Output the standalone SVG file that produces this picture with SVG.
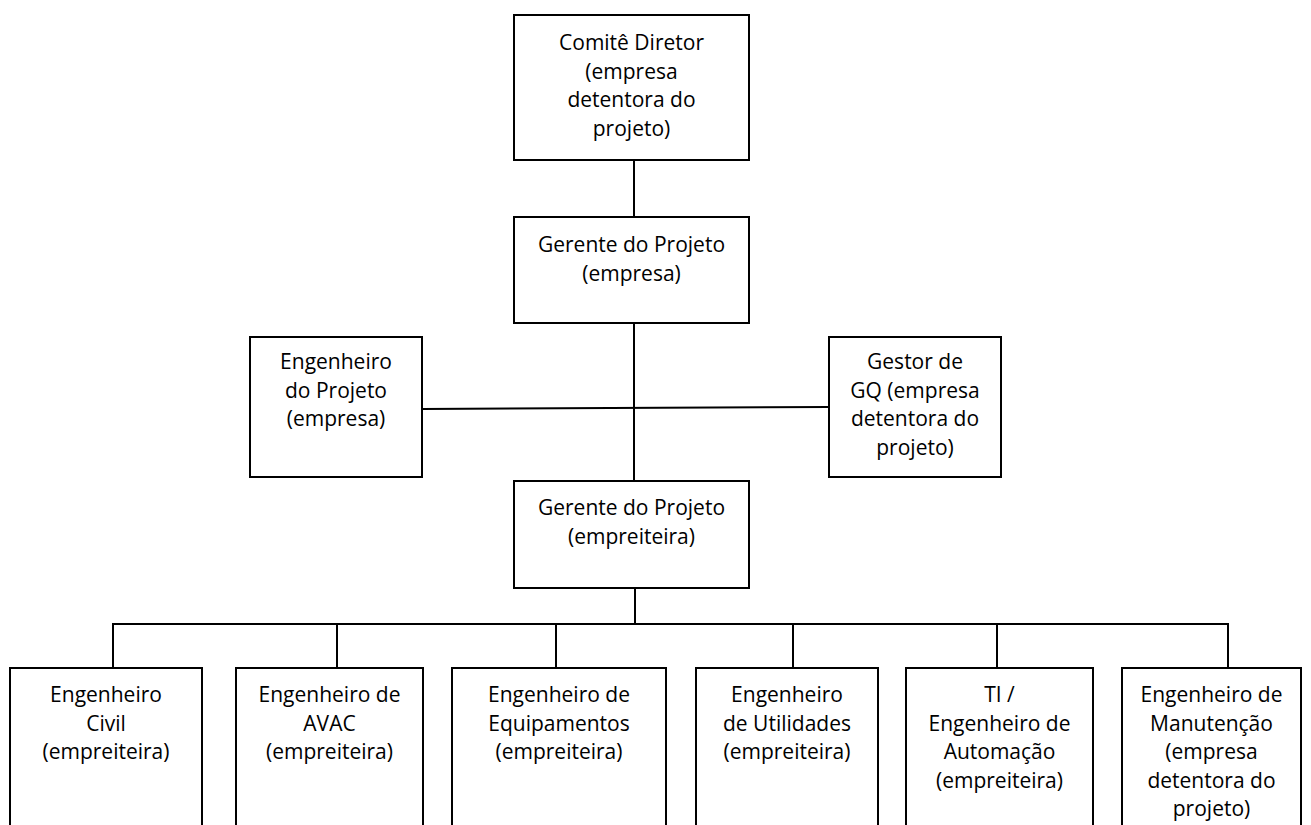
<svg xmlns="http://www.w3.org/2000/svg" width="1311" height="825" viewBox="0 0 1311 825">
<style>
.box{fill:#fff;stroke:#000;stroke-width:2}
.ln{fill:none;stroke:#000;stroke-width:2}
text{font-family:"Open Sans","Liberation Sans",sans-serif;font-size:21px;fill:#000;text-anchor:middle}
</style>
<rect width="1311" height="825" fill="#fff"/>
<g id="connectors">
<line class="ln" x1="634" y1="160" x2="634" y2="217"/>
<line class="ln" x1="634" y1="323" x2="634" y2="481"/>
<line class="ln" x1="422" y1="409" x2="829" y2="407"/>
<line class="ln" x1="635" y1="588" x2="635" y2="624"/>
<polyline class="ln" points="113,668 113,624 1228,624 1228,668"/>
<line class="ln" x1="337" y1="624" x2="337" y2="668"/>
<line class="ln" x1="556" y1="624" x2="556" y2="668"/>
<line class="ln" x1="793" y1="624" x2="793" y2="668"/>
<line class="ln" x1="997" y1="624" x2="997" y2="668"/>
</g>
<g id="comite">
<rect class="box" x="514" y="15" width="235" height="145"/>
<text x="631.5" y="50">Comitê Diretor</text>
<text x="631.5" y="78.5">(empresa</text>
<text x="631.5" y="107">detentora do</text>
<text x="631.5" y="135.5">projeto)</text>
</g>
<g id="gerente-empresa">
<rect class="box" x="514" y="217" width="235" height="106"/>
<text x="631.5" y="252">Gerente do Projeto</text>
<text x="631.5" y="280.5">(empresa)</text>
</g>
<g id="engenheiro-projeto">
<rect class="box" x="250" y="337" width="172" height="140"/>
<text x="336" y="369">Engenheiro</text>
<text x="336" y="397.5">do Projeto</text>
<text x="336" y="426">(empresa)</text>
</g>
<g id="gestor-gq">
<rect class="box" x="829" y="337" width="172" height="140"/>
<text x="915" y="369">Gestor de</text>
<text x="915" y="397.5">GQ (empresa</text>
<text x="915" y="426">detentora do</text>
<text x="915" y="454.5">projeto)</text>
</g>
<g id="gerente-empreiteira">
<rect class="box" x="514" y="481" width="235" height="107"/>
<text x="631.5" y="515">Gerente do Projeto</text>
<text x="631.5" y="543.5">(empreiteira)</text>
</g>
<g id="eng-civil">
<rect class="box" x="10" y="668" width="192" height="170"/>
<text x="106" y="702">Engenheiro</text>
<text x="106" y="730.5">Civil</text>
<text x="106" y="759">(empreiteira)</text>
</g>
<g id="eng-avac">
<rect class="box" x="236" y="668" width="187" height="170"/>
<text x="329.5" y="702">Engenheiro de</text>
<text x="329.5" y="730.5">AVAC</text>
<text x="329.5" y="759">(empreiteira)</text>
</g>
<g id="eng-equipamentos">
<rect class="box" x="452" y="668" width="214" height="170"/>
<text x="559" y="702">Engenheiro de</text>
<text x="559" y="730.5">Equipamentos</text>
<text x="559" y="759">(empreiteira)</text>
</g>
<g id="eng-utilidades">
<rect class="box" x="696" y="668" width="182" height="170"/>
<text x="787" y="702">Engenheiro</text>
<text x="787" y="730.5">de Utilidades</text>
<text x="787" y="759">(empreiteira)</text>
</g>
<g id="ti-automacao">
<rect class="box" x="906" y="668" width="187" height="170"/>
<text x="999.5" y="702">TI /</text>
<text x="999.5" y="730.5">Engenheiro de</text>
<text x="999.5" y="759">Automação</text>
<text x="999.5" y="787.5">(empreiteira)</text>
</g>
<g id="eng-manutencao">
<rect class="box" x="1122" y="668" width="179" height="170"/>
<text x="1211.5" y="702">Engenheiro de</text>
<text x="1211.5" y="730.5">Manutenção</text>
<text x="1211.5" y="759">(empresa</text>
<text x="1211.5" y="787.5">detentora do</text>
<text x="1211.5" y="816">projeto)</text>
</g>
</svg>
